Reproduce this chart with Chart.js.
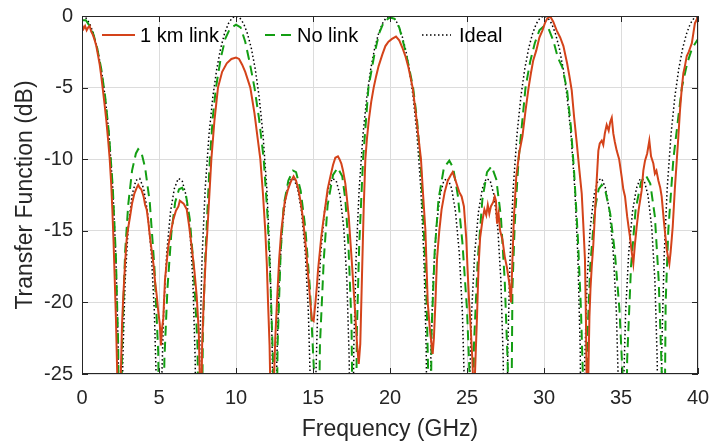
<!DOCTYPE html>
<html>
<head>
<meta charset="utf-8">
<script src="https://cdn.jsdelivr.net/npm/chart.js@4.4.0/dist/chart.umd.min.js"></script>
<style>
  html, body { margin: 0; padding: 0; background: #fff; }
</style>
</head>
<body>
<canvas id="myChart" width="710" height="441"></canvas>
<script>
// Daten ---------------------------------------------------------------------------
const seriesNames = ["1 km link", "No link", "Ideal"];
const xTicks = [0, 5, 10, 15, 20, 25, 30, 35, 40];
const yTicks = [-25, -20, -15, -10, -5, 0];

// 1 km link (gemessen, verrauscht)
const linkFreq = [0,0.1,0.2,0.3,0.4,0.5,0.6,0.7,0.8,0.93,1.05,1.15,1.25,1.36,1.47,1.58,1.7,1.8,1.9,1.97,2.05,2.12,2.2,2.3,2.4,2.5,2.6,2.68,2.8,2.9,3.0,3.12,3.25,3.4,3.55,3.65,3.75,3.85,4.0,4.1,4.2,4.3,4.42,4.55,4.65,4.75,4.85,4.95,5.05,5.13,5.2,5.28,5.39,5.5,5.6,5.75,5.93,6.1,6.26,6.35,6.47,6.6,6.7,6.8,6.95,7.12,7.3,7.45,7.58,7.66,7.72,7.8,7.9,8.05,8.14,8.27,8.4,8.6,8.83,9.1,9.4,9.7,10.0,
  10.2,10.4,10.6,10.93,11.2,11.4,11.58,11.75,11.9,12.0,12.08,12.18,12.25,12.35,12.45,12.55,12.66,12.8,12.94,13.16,13.35,13.55,13.74,13.9,14.07,14.2,14.33,14.45,14.55,14.66,14.76,14.85,14.93,15.04,15.15,15.25,15.33,15.45,15.54,15.67,15.8,15.95,16.13,16.3,16.45,16.62,16.72,16.84,16.95,17.1,17.2,17.32,17.42,17.53,17.62,17.7,17.78,17.86,17.97,18.07,18.18,18.29,18.4,18.5,18.62,18.78,18.94,19.1,19.26,19.5,19.7,19.9,20.13,
  20.39,20.6,20.8,21.0,21.2,21.47,21.7,21.85,22.01,22.15,22.3,22.45,22.6,22.77,22.85,22.95,23.05,23.2,23.35,23.55,23.75,23.95,24.07,24.2,24.35,24.5,24.65,24.8,24.95,25.05,25.14,25.25,25.35,25.45,25.55,25.65,25.75,25.85,26.0,26.13,26.25,26.35,26.45,26.55,26.7,26.8,26.88,26.95,27.05,27.15,27.3,27.45,27.6,27.75,27.86,27.95,28.05,28.2,28.4,28.6,28.8,29.0,29.15,29.3,29.5,29.7,29.9,30.06,30.2,30.39,
  30.6,30.82,31.05,31.26,31.5,31.65,31.8,31.95,32.13,32.3,32.45,32.55,32.66,32.72,32.8,32.88,32.95,33.02,33.1,33.2,33.3,33.42,33.53,33.62,33.75,33.85,33.95,34.07,34.2,34.3,34.4,34.5,34.6,34.72,34.88,35.04,35.15,35.26,35.4,35.5,35.58,35.7,35.8,35.9,36.02,36.15,36.34,36.45,36.56,36.7,36.84,36.95,37.1,37.2,37.3,37.43,37.55,37.64,37.8,37.97,38.05,38.14,38.22,38.3,38.36,38.5,38.62,38.72,38.83,38.95,39.05,39.15,39.27,39.4,39.5,39.6,39.7,39.8,39.9,40];
const linkDb = [-0.6,-0.9,-0.7,-1.0,-0.8,-0.7,-1.1,-1.3,-1.6,-2.1,-2.8,-3.4,-4.2,-5.2,-6.2,-7.3,-8.7,-10,-11.8,-13.5,-15.8,-18.2,-21,-25.5,-32,-26,-21.5,-19.6,-17.2,-15.6,-14.8,-14.0,-13.1,-12.4,-12.0,-11.8,-12.0,-12.1,-12.6,-13.2,-13.5,-14.3,-15.5,-16.6,-17.4,-18.6,-19.5,-20.6,-21.5,-23.0,-21.8,-21.1,-18.4,-17.2,-16.1,-15.2,-14.2,-13.6,-13.3,-12.9,-13.0,-13.1,-13.3,-13.5,-14.6,-16.1,-17.8,-19.6,-22,-25.5,-30,-23,-20,-16.5,-15,-12.5,-10,-7.3,-5.0,-3.9,-3.3,-3.0,-2.9,
  -3.0,-3.4,-3.9,-5.0,-6.8,-8.5,-10,-12.4,-15,-17.3,-20,-23,-27,-30,-26,-22.5,-20,-17,-15,-13,-12.2,-11.6,-11.2,-11.5,-12.2,-13.0,-14,-15.2,-16.3,-17.8,-19.1,-20.3,-21.2,-21.3,-20.1,-18.9,-17.7,-16.4,-15.4,-14.3,-13.3,-12.1,-11.2,-10.4,-9.9,-9.8,-10.0,-10.3,-10.8,-11.7,-12.7,-14,-15.6,-17.3,-18.8,-20.1,-21.5,-22.9,-24.3,-22.9,-18.2,-13.5,-10,-8.6,-7.3,-6.0,-5,-4.2,-3.5,-2.7,-2.1,-1.8,-1.6,
  -1.44,-1.7,-2.2,-2.8,-3.6,-5.0,-7.0,-8.5,-10,-12.5,-15,-20,-22,-23.6,-22.5,-20,-17,-15,-13.5,-12.3,-11.5,-11.1,-10.9,-11.3,-11.8,-12.3,-12.6,-13.3,-15.5,-18,-20,-22,-24,-27,-24,-21,-17.5,-15.5,-14.3,-13.5,-13.9,-13.2,-13.8,-13.3,-13.0,-12.6,-12.9,-14.5,-13.8,-15.0,-15.6,-16.8,-17.6,-18.7,-20.0,-17,-14,-11.2,-9.5,-8.4,-6.6,-5.0,-4.0,-3.1,-2.4,-1.5,-1.0,-0.5,-0.2,0.0,
  -0.4,-1.0,-1.5,-2.1,-3.3,-4.2,-5.2,-7.0,-8.9,-10.8,-12.4,-14.5,-17,-21,-28,-25,-21,-19,-17.5,-16,-14,-11.5,-9.4,-8.9,-8.7,-9.0,-8.2,-7.6,-8.0,-7.4,-7.1,-8.2,-8.8,-9.4,-10.0,-11.2,-12.1,-12.6,-14.0,-14.8,-15.4,-16.5,-17.3,-16.0,-14.7,-13.5,-12.2,-10.8,-10.1,-9.6,-8.7,-9.8,-10.3,-11.0,-10.8,-11.5,-12.0,-12.6,-14.5,-16.3,-16.8,-17.3,-16.5,-15.5,-14.7,-12.0,-10.1,-8.5,-6.6,-5.0,-4.0,-3.5,-2.8,-2.5,-2.2,-1.9,-1.2,-0.5,-0.3,0.0];

// No link
const noLinkFreq = [0,0.25,0.5,0.75,1.0,1.25,1.5,1.75,2.0,2.2,2.35,2.45,2.6,2.8,3.0,3.25,3.5,3.65,3.85,4.1,4.4,4.7,4.95,5.15,5.35,5.55,5.8,6.05,6.3,6.5,6.75,7.0,7.25,7.5,7.7,7.85,8.0,8.3,8.5,8.7,9.0,9.3,9.6,10,
  10.3,10.6,10.9,11.2,11.5,11.8,12.05,12.25,12.4,12.55,12.7,12.9,13.1,13.4,13.7,13.9,14.2,14.5,14.8,15.05,15.25,15.45,15.7,15.95,16.3,16.6,16.9,17.1,17.3,17.5,17.7,17.85,18.0,18.25,18.6,19.0,19.3,19.6,20,
  20.3,20.6,20.9,21.2,21.5,21.75,22.0,22.2,22.38,22.48,22.55,22.7,22.9,23.15,23.5,23.85,24.1,24.4,24.7,25.0,25.2,25.3,25.45,25.7,26.0,26.3,26.6,26.9,27.2,27.45,27.65,27.8,27.95,28.1,28.35,28.8,29.1,29.4,29.7,30,
  30.3,30.6,30.9,31.2,31.5,31.75,31.95,32.2,32.4,32.55,32.65,32.8,33.0,33.3,33.55,33.75,34.0,34.3,34.6,34.9,35.1,35.25,35.4,35.65,35.95,36.3,36.6,36.9,37.2,37.45,37.65,37.75,37.9,38.07,38.4,38.95,39.3,39.6,40];
const noLinkDb = [-0.3,-0.3,-0.7,-1.3,-2.3,-3.7,-5.6,-8.2,-12.0,-16.8,-23,-40,-23,-16.5,-13.2,-10.8,-9.6,-9.3,-9.5,-10.6,-13.0,-17.5,-23.5,-40,-24,-19,-15.2,-13.0,-12.1,-12.0,-12.5,-14.2,-17.5,-23,-40,-22,-17,-10,-7.0,-5.0,-3.0,-1.6,-0.9,-0.6,
  -0.8,-1.8,-3.3,-5.0,-7.2,-10,-14,-19,-24,-40,-23,-16.5,-13.2,-11.5,-10.8,-10.9,-12.2,-14.8,-19,-24.5,-40,-23,-17,-13.2,-11.1,-10.6,-11.2,-12.8,-16,-21.5,-40,-22,-16,-10,-5,-2.6,-1.2,-0.4,-0.1,
  -0.2,-0.8,-2.0,-3.4,-5.0,-7.2,-10.4,-15,-20,-25,-40,-22,-16.5,-12.8,-10.6,-10.1,-10.6,-12.5,-15.8,-20.5,-26,-40,-23,-17,-12.8,-10.9,-10.5,-11.4,-14.0,-18.5,-24.5,-40,-19,-14.5,-10,-5.0,-3.2,-1.9,-1.0,-0.7,
  -0.9,-1.7,-2.9,-3.6,-5.2,-7.8,-10.8,-15.5,-20.5,-26,-40,-23,-17.5,-13.5,-12.1,-11.8,-12.3,-13.8,-16.5,-20.5,-25,-40,-24,-17.5,-13.5,-11.6,-11.1,-11.7,-14.0,-18.5,-25,-40,-20,-15,-10,-5,-3.3,-2.3,-1.6];

// Ideal
const idealFreq = [0,0.25,0.5,0.75,1,1.25,1.5,1.75,2,2.2,2.35,2.5,2.65,2.8,3,3.25,3.5,3.75,4,4.25,4.5,4.7,4.85,5,5.15,5.3,5.5,5.75,6,6.25,6.5,6.75,7,7.2,7.35,7.5,7.65,7.8,8,8.25,8.5,8.75,9,9.25,9.5,9.75,
  10,10.25,10.5,10.75,11,11.25,11.5,11.75,12,12.2,12.35,12.5,12.65,12.8,13,13.25,13.5,13.75,14,14.25,14.5,14.7,14.85,15,15.15,15.3,15.5,15.75,16,16.25,16.5,16.75,17,17.2,17.35,17.5,17.65,17.8,18,18.25,18.5,18.75,19,19.25,19.5,19.75,
  20,20.25,20.5,20.75,21,21.25,21.5,21.75,22,22.2,22.35,22.5,22.65,22.8,23,23.25,23.5,23.75,24,24.25,24.5,24.7,24.85,25,25.15,25.3,25.5,25.75,26,26.25,26.5,26.75,27,27.2,27.35,27.5,27.65,27.8,28,28.25,28.5,28.75,29,29.25,29.5,29.75,
  30,30.25,30.5,30.75,31,31.25,31.5,31.75,32,32.2,32.35,32.5,32.65,32.8,33,33.25,33.5,33.75,34,34.25,34.5,34.7,34.85,35,35.15,35.3,35.5,35.75,36,36.25,36.5,36.75,37,37.2,37.35,37.5,37.65,37.8,38,38.25,38.5,38.75,39,39.25,39.5,39.75,40];
const idealDb = [0,-0.13,-0.54,-1.25,-2.28,-3.70,-5.62,-8.24,-12.04,-16.81,-23.15,-40,-23.97,-18.46,-14.82,-12.50,-11.48,-11.35,-12.04,-13.64,-16.55,-20.68,-26.58,-40,-26.58,-20.68,-16.55,-13.64,-12.04,-11.35,-11.48,-12.50,-14.82,-18.46,-23.97,-40,-23.15,-16.81,-12.04,-8.24,-5.62,-3.70,-2.28,-1.25,-0.54,-0.13,
  0,-0.13,-0.54,-1.25,-2.28,-3.70,-5.62,-8.24,-12.04,-16.81,-23.15,-40,-23.97,-18.46,-14.82,-12.50,-11.48,-11.35,-12.04,-13.64,-16.55,-20.68,-26.58,-40,-26.58,-20.68,-16.55,-13.64,-12.04,-11.35,-11.48,-12.50,-14.82,-18.46,-23.97,-40,-23.15,-16.81,-12.04,-8.24,-5.62,-3.70,-2.28,-1.25,-0.54,-0.13,
  0,-0.13,-0.54,-1.25,-2.28,-3.70,-5.62,-8.24,-12.04,-16.81,-23.15,-40,-23.97,-18.46,-14.82,-12.50,-11.48,-11.35,-12.04,-13.64,-16.55,-20.68,-26.58,-40,-26.58,-20.68,-16.55,-13.64,-12.04,-11.35,-11.48,-12.50,-14.82,-18.46,-23.97,-40,-23.15,-16.81,-12.04,-8.24,-5.62,-3.70,-2.28,-1.25,-0.54,-0.13,
  0,-0.13,-0.54,-1.25,-2.28,-3.70,-5.62,-8.24,-12.04,-16.81,-23.15,-40,-23.97,-18.46,-14.82,-12.50,-11.48,-11.35,-12.04,-13.64,-16.55,-20.68,-26.58,-40,-26.58,-20.68,-16.55,-13.64,-12.04,-11.35,-11.48,-12.50,-14.82,-18.46,-23.97,-40,-23.15,-16.81,-12.04,-8.24,-5.62,-3.70,-2.28,-1.25,-0.54,-0.13,0];
//-----------------------------------------------------------------------------------

const FONT = "'Liberation Sans', Arial, Helvetica, sans-serif";
const toPoints = (xs, ys) => xs.map((x, i) => ({ x: x, y: ys[i] }));

const styles = [
  { color: '#D4431A', width: 2, dash: [] },
  { color: '#139E13', width: 2, dash: [10, 6] },
  { color: '#000000', width: 1.5, dash: [1.5, 2.5] }
];

// Rahmen mit innenliegenden Ticks (wie MATLAB) + Legende
const boxAndLegend = {
  id: 'boxAndLegend',
  afterDraw(chart) {
    const { ctx, chartArea: a, scales } = chart;
    ctx.save();
    ctx.strokeStyle = '#262626';
    ctx.lineWidth = 1;
    ctx.setLineDash([]);
    ctx.strokeRect(a.left + 0.5, a.top + 0.5, a.right - a.left - 1, a.bottom - a.top - 1);
    ctx.beginPath();
    xTicks.forEach(v => {
      const px = Math.round(scales.x.getPixelForValue(v)) + 0.5;
      ctx.moveTo(px, a.bottom); ctx.lineTo(px, a.bottom - 6);
      ctx.moveTo(px, a.top); ctx.lineTo(px, a.top + 6);
    });
    yTicks.forEach(v => {
      const py = Math.round(scales.y.getPixelForValue(v)) + 0.5;
      ctx.moveTo(a.left, py); ctx.lineTo(a.left + 6, py);
      ctx.moveTo(a.right, py); ctx.lineTo(a.right - 6, py);
    });
    ctx.stroke();

    // Legende
    const pos = [[102, 135, 140], [265, 292, 297], [422, 451, 459]];
    const ly = 35;
    ctx.font = '20px ' + FONT;
    ctx.textBaseline = 'middle';
    ctx.fillStyle = '#000';
    seriesNames.forEach((name, i) => {
      const s = styles[i];
      ctx.beginPath();
      ctx.strokeStyle = s.color;
      ctx.lineWidth = s.width;
      ctx.setLineDash(s.dash);
      ctx.moveTo(pos[i][0], ly); ctx.lineTo(pos[i][1], ly);
      ctx.stroke();
      ctx.fillText(name, pos[i][2], ly + 1);
    });
    ctx.restore();
  }
};

const ctx = document.getElementById('myChart').getContext('2d');
const myChart = new Chart(ctx, {
  type: 'line',
  data: {
    datasets: [
      { label: seriesNames[0], data: toPoints(linkFreq, linkDb) },
      { label: seriesNames[1], data: toPoints(noLinkFreq, noLinkDb) },
      { label: seriesNames[2], data: toPoints(idealFreq, idealDb) }
    ].map((d, i) => Object.assign(d, {
      borderColor: styles[i].color,
      borderWidth: styles[i].width,
      borderDash: styles[i].dash,
      pointRadius: 0,
      tension: 0,
      fill: false,
      clip: 0
    }))
  },
  options: {
    responsive: false,
    animation: false,
    layout: { padding: { left: 0, right: 12, top: 16, bottom: 0 } },
    scales: {
      x: {
        type: 'linear', min: 0, max: 40,
        afterBuildTicks: s => { s.ticks = xTicks.map(v => ({ value: v })); },
        afterFit: s => { s.height = 67; s.paddingLeft = 0; s.paddingRight = 0; },
        grid: { color: '#dcdcdc', lineWidth: 1, drawTicks: false },
        border: { display: false },
        ticks: { padding: 12, color: '#262626', font: { family: FONT, size: 20 }, maxRotation: 0 },
        title: { display: true, text: 'Frequency (GHz)', color: '#262626',
                 font: { family: FONT, size: 23, lineHeight: 1 }, padding: { top: 0, bottom: 0 } }
      },
      y: {
        min: -25, max: 0,
        afterBuildTicks: s => { s.ticks = yTicks.map(v => ({ value: v })); },
        afterFit: s => { s.width = 82; s.paddingTop = 0; s.paddingBottom = 0; },
        grid: { color: '#dcdcdc', lineWidth: 1, drawTicks: false },
        border: { display: false },
        ticks: { padding: 9, color: '#262626', font: { family: FONT, size: 20 } },
        title: { display: true, text: 'Transfer Function (dB)', color: '#262626',
                 font: { family: FONT, size: 23, lineHeight: 1 }, padding: { top: 14, bottom: 0 } }
      }
    },
    plugins: {
      legend: { display: false },
      tooltip: { enabled: false }
    }
  },
  plugins: [boxAndLegend]
});
</script>
</body>
</html>
